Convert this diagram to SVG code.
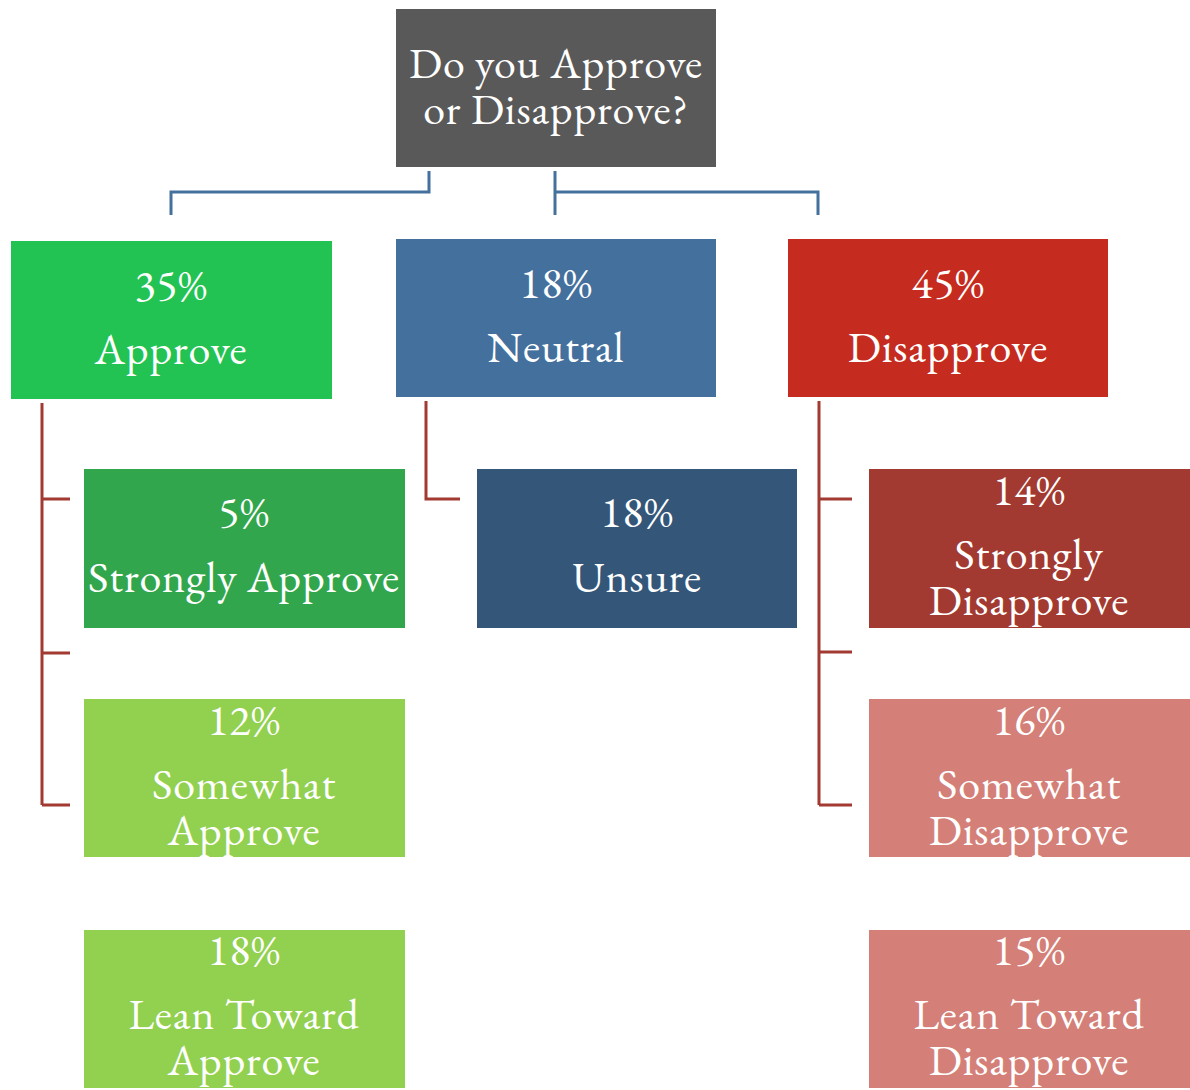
<svg xmlns="http://www.w3.org/2000/svg" width="1190" height="1090" viewBox="0 0 1190 1090">
<style>
text{font-family:"EB Garamond","Liberation Serif","DejaVu Serif",serif;font-size:44px;letter-spacing:0.8px;fill:#ffffff;text-anchor:middle}
.blue{fill:none;stroke:#44709D;stroke-width:3}
.red{fill:none;stroke:#A23A31;stroke-width:3}
</style>
<rect width="1190" height="1090" fill="#ffffff"/>
<g id="connectors">
<path class="blue" d="M429,171 V192 H171 V215"/>
<path class="blue" d="M555,171 V215 M555,192 H818 V215"/>
<path class="red" d="M42,403 V805 M42,499 H70 M42,653 H70 M42,805 H70"/>
<path class="red" d="M426,401 V499 H460"/>
<path class="red" d="M819,401 V805 M819,499 H852 M819,652 H852 M819,805 H852"/>
</g>
<g id="root"><rect x="396" y="9" width="320" height="158" fill="#595959"/><text x="556" y="78">Do you Approve</text><text x="556" y="124">or Disapprove?</text></g>
<g id="approve"><rect x="11" y="241" width="321" height="158" fill="#22C353"/><text x="171" y="300">35%</text><text x="171" y="364">Approve</text></g>
<g id="neutral"><rect x="396" y="239" width="320" height="158" fill="#44709D"/><text x="556" y="298">18%</text><text x="556" y="362">Neutral</text></g>
<g id="disapprove"><rect x="788" y="239" width="320" height="158" fill="#C52B1E"/><text x="948" y="298">45%</text><text x="948" y="362">Disapprove</text></g>
<g id="strongly-approve"><rect x="84" y="469" width="321" height="159" fill="#32A64C"/><text x="244" y="527">5%</text><text x="244" y="592">Strongly Approve</text></g>
<g id="unsure"><rect x="477" y="469" width="320" height="159" fill="#335679"/><text x="637" y="527">18%</text><text x="637" y="592">Unsure</text></g>
<g id="strongly-disapprove"><rect x="869" y="469" width="321" height="159" fill="#A23A31"/><text x="1029" y="505">14%</text><text x="1029" y="569">Strongly</text><text x="1029" y="615">Disapprove</text></g>
<g id="somewhat-approve"><rect x="84" y="699" width="321" height="158" fill="#92D050"/><text x="244" y="735">12%</text><text x="244" y="799">Somewhat</text><text x="244" y="845">Approve</text></g>
<g id="somewhat-disapprove"><rect x="869" y="699" width="321" height="158" fill="#D47F78"/><text x="1029" y="735">16%</text><text x="1029" y="799">Somewhat</text><text x="1029" y="845">Disapprove</text></g>
<g id="lean-approve"><rect x="84" y="930" width="321" height="158" fill="#92D050"/><text x="244" y="965">18%</text><text x="244" y="1029">Lean Toward</text><text x="244" y="1075">Approve</text></g>
<g id="lean-disapprove"><rect x="869" y="930" width="321" height="158" fill="#D47F78"/><text x="1029" y="965">15%</text><text x="1029" y="1029">Lean Toward</text><text x="1029" y="1075">Disapprove</text></g>
</svg>
